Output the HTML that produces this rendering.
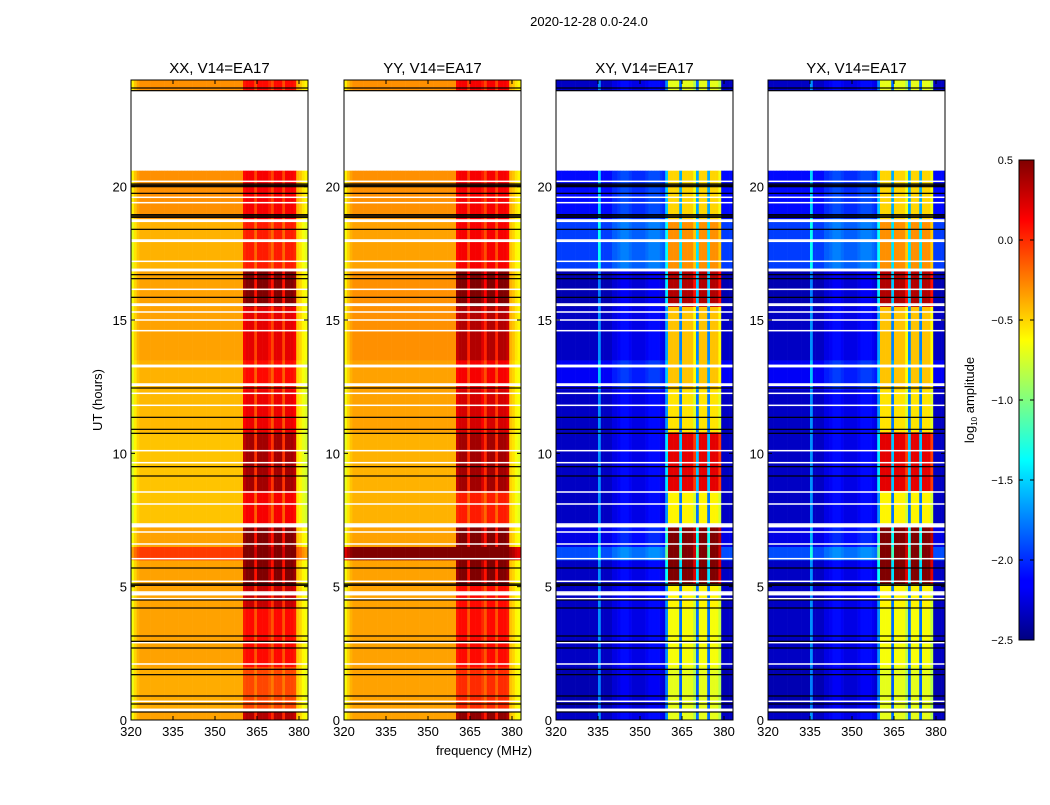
<!DOCTYPE html>
<html><head><meta charset="utf-8">
<style>
body{margin:0;background:#fff;}
svg text{font-family:"Liberation Sans",sans-serif;fill:#000;}
</style></head>
<body>
<svg id="fig" width="1050" height="800" viewBox="0 0 1050 800" xmlns="http://www.w3.org/2000/svg">
<defs>
<linearGradient id="jet" x1="0" y1="1" x2="0" y2="0">
<stop offset="0" stop-color="#000080"/><stop offset="0.11" stop-color="#0000ff"/>
<stop offset="0.125" stop-color="#0000ff"/><stop offset="0.375" stop-color="#00ffff"/>
<stop offset="0.5" stop-color="#80ff80"/><stop offset="0.625" stop-color="#ffff00"/>
<stop offset="0.875" stop-color="#ff0000"/><stop offset="1" stop-color="#800000"/>
</linearGradient>
</defs>
<text x="589" y="26" font-size="13" text-anchor="middle">2020-12-28 0.0-24.0</text>
<text x="0" y="0" font-size="13" text-anchor="middle" transform="translate(102,400) rotate(-90)">UT (hours)</text>
<text x="484" y="755" font-size="13" text-anchor="middle">frequency (MHz)</text>
<g id="panels"></g>
<g>
<rect x="1019" y="160" width="15" height="480" fill="url(#jet)" stroke="#000" stroke-width="1"/>
<g id="cbticks"></g>
<text font-size="13" text-anchor="middle" transform="translate(974,400) rotate(-90)">log<tspan font-size="8" dy="3">10</tspan><tspan dy="-3"> amplitude</tspan></text>
</g>
</svg>
<script>
// ---- data ----
const freqs = [];
for (let f = 320; f <= 382; f++) freqs.push(f);
const bandStart = [0, 0.3, 2.0, 4.2, 5.1, 6.0, 6.5, 7.3, 8.6, 10.8, 12.4, 13.5, 15.5, 16.9, 18.8, 23.6];
const bandEnd   = [0.3, 2.0, 4.2, 5.1, 6.0, 6.5, 7.3, 8.6, 10.8, 12.4, 13.5, 15.5, 16.9, 18.8, 20.6, 24];
const xxBase = [-0.35,-0.38,-0.35,-0.35,-0.35,-0.05,-0.35,-0.45,-0.45,-0.42,-0.4,-0.35,-0.35,-0.4,-0.3,-0.3];
const xxRfi  = [0.7,0.3,0.45,0.65,0.85,0.6,0.85,0.6,0.85,0.6,0.5,0.55,0.85,0.45,0.45,0.4];
const yyBase = [-0.35,-0.35,-0.35,-0.35,-0.35,0.5,-0.35,-0.4,-0.4,-0.35,-0.35,-0.3,-0.3,-0.35,-0.3,-0.3];
const yyRfi  = [0.8,0.35,0.45,0.45,0.85,0.1,0.85,0.45,0.8,0.6,0.5,0.65,0.85,0.5,0.45,0.45];
const xyBase = [-2.3,-2.35,-2.3,-2.3,-2.3,-1.9,-2.2,-2.3,-2.3,-2.3,-2.15,-2.3,-2.35,-1.95,-2.1,-2.3];
const xyRfi  = [1.6,1.65,1.65,1.7,2.8,2.4,2.8,1.7,2.5,1.75,1.7,1.85,2.7,1.65,1.6,1.6];
const yxBase = [-2.3,-2.35,-2.3,-2.3,-2.3,-1.9,-2.2,-2.3,-2.3,-2.3,-2.15,-2.3,-2.35,-1.95,-2.1,-2.3];
const yxRfi  = [1.6,1.65,1.65,1.7,2.8,2.4,2.8,1.7,2.5,1.75,1.7,1.85,2.7,1.65,1.6,1.6];
// per-frequency edge offset and RFI multiplier (parallel / cross hands)
const parEdge = [-0.3,-0.15,-0.05,0,0,0,0,0,0,0,0,0,0,0,0,0,0,0,0,0,0,0,0,0,0,0,0,0,0,0,0,0,0,0,0,0,0,0,0,0,0,0,0,0,0,0,0,0,0,0,0,0,0,0,0,0,0,0,0,-0.1,-0.15,-0.25,-0.3];
const parRfi  = [0,0,0,0,0,0,0,0,0,0,0,0,0,0,0,0,0,0,0,0,0,0,0,0,0,0,0,0,0,0,0,0,0,0,0,0,0,0,0,0,0.9,1,1,1,0.5,1,1,1,1,0.8,0.5,1,1,1,0.5,1,1,1,0.9,0,0,0,0];
const crsEdge = [0,0,0,0,0,0,0,0,0,0,0,0,0,0,0,0.6,0,0,0,0,0.1,0.1,0.15,0.2,0.2,0.2,0.15,0.1,0.1,0.1,0.1,0.1,0.15,0.2,0.2,0.2,0.2,0.15,0.1,0.1,0,0,0,0,0,0,0,0,0,0,0,0,0,0,0,0,0,0,0,0,0,0,0];
const crsRfi  = [0,0,0,0,0,0,0,0,0,0,0,0,0,0,0,0,0,0,0,0,0,0,0,0,0,0,0,0,0,0,0,0,0,0,0,0,0,0,0,0.3,1,1,1,1,0.3,1,1,1,1,0.9,0.3,1,1,1,0.3,1,1,1,0.9,0,0,0,0];
const whiteLines = [20.2,19.6,19.4,18.75,18.7,18.0,17.95,17.2,16.9,16.85,16.15,15.6,15.55,15.3,15.0,14.6,13.3,13.25,12.6,12.55,12.25,11.8,10.1,9.65,8.55,8.1,7.35,7.3,7.25,7.05,6.6,6.05,5.2,4.8,4.75,4.7,4.55,2.9,2.1,0.7,0.4,0.35];
const blackLines = [23.7,23.6,20.1,20.05,20.0,19.75,18.95,18.9,18.85,18.4,16.7,16.55,15.85,12.45,11.35,10.9,10.75,9.5,9.15,5.7,5.1,5.05,4.5,4.2,3.15,2.95,2.7,1.9,1.7,0.9,0.6,0.3];
const xTicks = [320,335,350,365,380];
const yTicks = [0,5,10,15,20];
const cbTicks = [0.5,0.0,-0.5,-1.0,-1.5,-2.0,-2.5];
const titles = ["XX, V14=EA17","YY, V14=EA17","XY, V14=EA17","YX, V14=EA17"];
const panelLeft = [131,344,556,768];

const panelsData = [
 {base:xxBase,rfi:xxRfi,edge:parEdge,prof:parRfi,name:'xx'},
 {base:yyBase,rfi:yyRfi,edge:parEdge,prof:parRfi,name:'yy'},
 {base:xyBase,rfi:xyRfi,edge:crsEdge,prof:crsRfi,name:'xy'},
 {base:yxBase,rfi:yxRfi,edge:crsEdge,prof:crsRfi,name:'yx'}
];

const NS='http://www.w3.org/2000/svg';
const W=177, TOP=80, BOT=720;
const F0=320, F1=320+W/2.8;
function jet(v){
  let x=(v+2.5)/3; x=Math.max(0,Math.min(1,x));
  const c=t=>Math.round(255*Math.max(0,Math.min(1,1.5-Math.abs(4*x-t))));
  return `rgb(${c(3)},${c(2)},${c(1)})`;
}
function yS(h){return BOT-(h/24)*(BOT-TOP);}
function mk(tag,attrs,parent){const e=document.createElementNS(NS,tag);for(const k in attrs)e.setAttribute(k,attrs[k]);parent.appendChild(e);return e;}
const root=document.getElementById('panels');
panelsData.forEach((p,pi)=>{
  const L=panelLeft[pi];
  const xS=f=>L+(f-F0)/(F1-F0)*W;
  const g=mk('g',{},root);
  
  
  const cells=mk('g',{},g);
  
  
  for(let b=0;b<bandStart.length;b++){
    const y0=yS(bandEnd[b]), y1=yS(bandStart[b]);
    for(let i=0;i<freqs.length;i++){
      const v=p.base[b]+p.edge[i]+p.rfi[b]*p.prof[i];
      const x0=xS(freqs[i]), x1=Math.min(xS(freqs[i]+1),L+W);
      const r=mk('rect',{x:x0.toFixed(2),y:y0.toFixed(2),width:(x1-x0+0.3).toFixed(2),height:(y1-y0+0.3).toFixed(2),fill:jet(v)},cells);
      
      
    }
  }
  whiteLines.forEach(h=>{
    const r=mk('rect',{x:L,y:(yS(h)-0.75).toFixed(2),width:W,height:1.5,fill:'#fff'},g);
    
    
  });
  blackLines.forEach(h=>{
    const r=mk('rect',{x:L,y:(yS(h)-0.6).toFixed(2),width:W,height:1.2,fill:'#000'},g);
    
    
  });
  const fr=mk('rect',{x:L,y:TOP,width:W,height:BOT-TOP,fill:'none',stroke:'#000','stroke-width':1},g);
  
  
  const t=mk('text',{x:L+W/2,y:TOP-7,'font-size':15,'text-anchor':'middle'},g);
  t.textContent=titles[pi];
  
  
  xTicks.forEach(f=>{
    const x=xS(f);
    mk('line',{x1:x,x2:x,y1:BOT,y2:BOT-4,stroke:'#000'},g);
    mk('line',{x1:x,x2:x,y1:TOP,y2:TOP+4,stroke:'#000'},g);
    const tx=mk('text',{x:x,y:BOT+16,'font-size':13,'text-anchor':'middle'},g);
    tx.textContent=f;
    
    
  });
  yTicks.forEach(h=>{
    const y=yS(h);
    mk('line',{x1:L,x2:L+4,y1:y,y2:y,stroke:'#000'},g);
    mk('line',{x1:L+W,x2:L+W-4,y1:y,y2:y,stroke:'#000'},g);
    const ty=mk('text',{x:L-4,y:y+5,'font-size':13,'text-anchor':'end'},g);
    ty.textContent=h;
    
    
  });
});
const cb=document.getElementById('cbticks');
cbTicks.forEach(v=>{
  const y=160+(0.5-v)/3*480;
  mk('line',{x1:1019,x2:1023,y1:y,y2:y,stroke:'#000'},cb);
  mk('line',{x1:1034,x2:1030,y1:y,y2:y,stroke:'#000'},cb);
  const t=mk('text',{x:1013,y:y+4,'font-size':11,'text-anchor':'end'},cb);
  t.textContent=(v<0?'\u2212':'')+Math.abs(v).toFixed(1);
  
  
});
</script>
</body></html>
